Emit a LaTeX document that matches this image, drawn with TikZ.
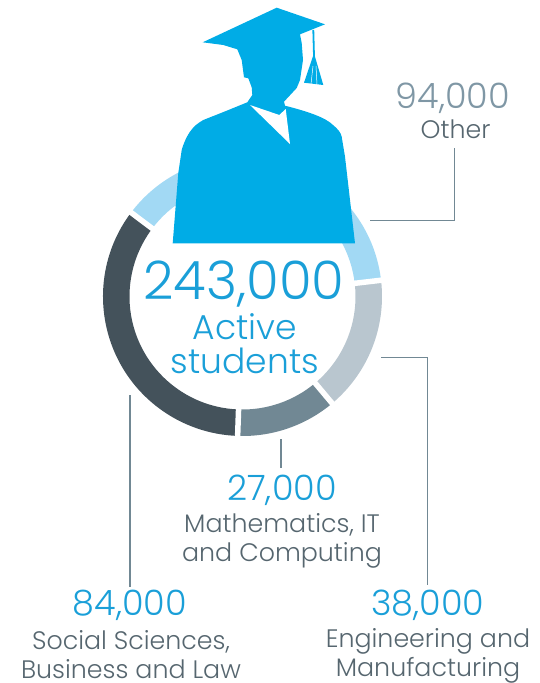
\documentclass[tikz,border=0pt]{standalone}
\usepackage{fontspec}
\setmainfont{Poppins}[UprightFont=* Light]
\definecolor{capblue}{HTML}{00ACE6}
\definecolor{ringlight}{HTML}{A2D9F4}
\definecolor{ringgrey}{HTML}{B9C6CF}
\definecolor{ringsteel}{HTML}{718894}
\definecolor{ringdark}{HTML}{44525B}
\definecolor{txtblue}{HTML}{1A9FD8}
\definecolor{txtgrey}{HTML}{56666F}
\definecolor{numgrey}{HTML}{7F97A5}
\definecolor{linegrey}{HTML}{718894}
\tikzset{
  seg/.style={fill=#1,draw=none},
  gapline/.style={white,line width=5.5pt},
  lead/.style={draw=linegrey,line width=1.2pt},
  num/.style={text=txtblue,font=\fontsize{35}{38}\selectfont,inner sep=0pt,anchor=center},
  lab/.style={text=txtgrey,font=\fontsize{25.3}{29}\selectfont,inner sep=0pt,align=center,anchor=center},
}
\newcommand{\ringseg}[3]{\fill[seg=#3] (#1:139.5) arc[start angle=#1,end angle=#2,radius=139.5] -- (#2:113) arc[start angle=#2,end angle=#1,radius=113] -- cycle;}
\begin{document}
\begin{tikzpicture}[x=1pt,y=-1pt]
\useasboundingbox (0,0) rectangle (539,683);
\begin{scope}[shift={(242.5,296.5)},x=1pt,y=1pt]
\ringseg{6.7}{143}{ringlight}
\ringseg{143}{268}{ringdark}
\ringseg{268}{310}{ringsteel}
\ringseg{310}{366.7}{ringgrey}
\foreach \a in {6.7,143,268,310}{\draw[gapline] (\a:105) -- (\a:146);}
\end{scope}
% graduate
\fill[capblue] (276.7,7.7) -- (325,24.3) -- (300,34.3) -- (301.7,43) -- (303,60) -- (300,80) -- (296.7,88) -- (284,101.7) -- (285,105.7)
 .. controls (310,112) and (326,118) .. (333,125) .. controls (338,129) and (341,133) .. (341.7,136.7) -- (345,156.7) -- (355,243.3) -- (172.7,243.3) -- (178.3,173) -- (181.7,150)
 .. controls (184,142) and (187,136) .. (190,131.7) .. controls (194,126) and (198,123) .. (203.3,120) -- (226.7,110.7) -- (247.3,102.3) -- (252.3,95) -- (251.7,87.3) -- (248.3,78.3) -- (244,77.3) -- (241.7,60) -- (237.3,49.3) -- (223.3,45) -- (202.7,42.3) -- cycle;
\fill[white] (250,105) -- (279.3,115) -- (285.7,109) -- (290,144) -- cycle;
\draw[capblue,line width=1.8pt] (313.3,30) -- (314,56);
\fill[capblue] (314,53.3) -- (304,82.7) -- (323.3,85) -- cycle;
\draw[white,line width=0.5pt] (313,66) -- (311,84) (316,66) -- (317,85);
% leaders
\coordinate (othA) at (370,220.5); \coordinate (othB) at (454.7,220.5); \coordinate (othC) at (454.7,148);
\draw[lead] (othA) -- (othB) -- (othC);
\coordinate (engA) at (381,357.3); \coordinate (engB) at (427.3,357.3); \coordinate (engC) at (427.3,585);
\draw[lead,line width=1pt] (engA) -- (engB) -- (engC);
\coordinate (matA) at (281,439); \coordinate (matB) at (281,468);
\draw[lead,line width=1.5pt] (matA) -- (matB);
\coordinate (socA) at (130,395); \coordinate (socB) at (130,587);
\draw[lead,line width=1.7pt] (socA) -- (socB);
% centre
\node[text=txtblue,font=\fontsize{53}{56}\selectfont,inner sep=0pt] (total) at (244,284) {243,000};
\node[text=txtblue,font=\fontsize{34.5}{34}\selectfont,inner sep=0pt,align=center] (active) at (245,344) {Active\\students};
% labels
\node[num,text=numgrey] (n1) at (453,98) {94,000};
\node[lab] (l1) at (455.5,129) {Other};
\node[num] (n2) at (282,490) {27,000};
\node[lab] (l2) at (282,541) {Mathematics, IT\\and Computing};
\node[num] (n3) at (130,605) {84,000};
\node[lab] (l3) at (131,655) {Social Sciences,\\Business and Law};
\node[num] (n4) at (428,605) {38,000};
\node[lab] (l4) at (428,656) {Engineering and\\Manufacturing};
\end{tikzpicture}
\end{document}
